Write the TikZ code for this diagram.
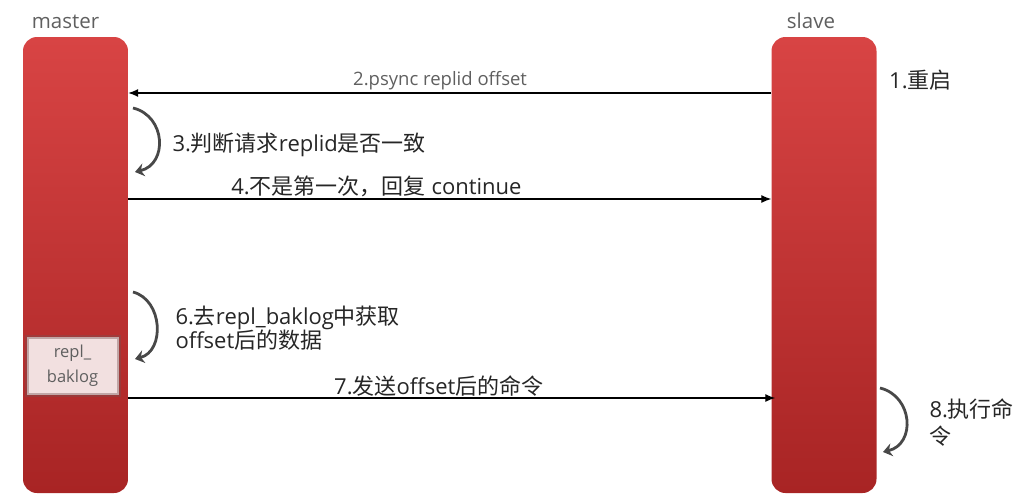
\documentclass[tikz,border=0pt]{standalone}
\usepackage{fontspec}
\setmainfont{Open Sans}
\newfontfamily\cjk{Noto Sans CJK SC}
\usepackage{tikz}
\usetikzlibrary{arrows.meta,positioning,calc}
\tikzset{>=latex}
\definecolor{barTop}{RGB}{216,68,68}
\definecolor{barBot}{RGB}{168,36,36}
\definecolor{roleGray}{RGB}{95,95,95}
\definecolor{loopGray}{RGB}{72,72,72}
\definecolor{bakFill}{RGB}{242,224,224}
\definecolor{bakEdge}{RGB}{120,80,80}
\tikzset{
    bar/.style={rectangle,rounded corners=14pt,top color=barTop,bottom color=barBot,
        minimum width=105pt,minimum height=456pt,inner sep=0pt},
    role/.style={text=roleGray,font=\fontsize{20.5}{22}\selectfont},
    msg/.style={line width=1.3pt,-{Latex[length=10pt,width=8pt]}},
    msgtext/.style={font=\fontsize{22}{24}\selectfont,text=black!85},
    selfloop/.style={line width=2.8pt,draw=loopGray,-{Stealth[length=9pt,width=13pt]}},
    bakbox/.style={rectangle,fill=bakFill,draw=bakEdge,line width=4pt,draw opacity=0.4,
        minimum width=92pt,minimum height=58pt,inner sep=0pt,align=center,
        text=roleGray,font=\fontsize{16.5}{25}\selectfont}
}

\begin{document}
\begin{tikzpicture}[x=1pt,y=-1pt]
        \useasboundingbox (0,0) rectangle (1029,498);
        %%%
        \node[bar] (master) at (75.5,265) {};
        \node[bar] (slave) at (824,265) {};
        \node[role,above=5pt of master,xshift=-10pt] (masterlbl) {master};
        \node[role,above=5pt of slave,xshift=-13pt] (slavelbl) {slave};
        %%%
        \node[bakbox] (baklog) at (72.5,365.5) {repl\_\\baklog};
        %%%
        \node[msgtext,anchor=west] (restart) at ($(slave.east |- 0,80)+(9,0)$) {1.{\cjk 重启}};
        %%%
        \draw[msg] (slave.west |- 0,93) -- node[pos=0.515,above=-1pt,role,font=\fontsize{18.5}{20}\selectfont] (psync) {2.psync replid offset} (master.east |- 0,93);
        %%%
        \coordinate (chkA) at (133,108);
        \coordinate (chkB) at (135,172);
        \draw[selfloop] (chkA) .. controls +(33,8) and +(33,-8) .. (chkB);
        \node[msgtext,anchor=west] (check) at (169,145) {3.{\cjk 判断请求}replid{\cjk 是否一致}};
        %%%
        \draw[msg] (master.east |- 0,199) -- node[pos=0.386,above=-2pt,msgtext] (cont) {4.{\cjk 不是第一次，回复} continue} (slave.west |- 0,199);
        %%%
        \coordinate (getA) at (133,292);
        \coordinate (getB) at (135,359);
        \draw[selfloop] (getA) .. controls +(30,8) and +(30,-8) .. (getB);
        \node[msgtext,anchor=west,align=left,font=\fontsize{22}{24}\selectfont] (fetch) at (172,328) {6.{\cjk 去}repl\_baklog{\cjk 中获取}\\offset{\cjk 后的数据}};
        %%%
        \draw[msg] (master.east |- 0,398) -- node[pos=0.48,above=-2pt,msgtext] (send) {7.{\cjk 发送}offset{\cjk 后的命令}} ($(slave.west |- 0,398)+(4,0)$);
        %%%
        \coordinate (execA) at (880,388);
        \coordinate (execB) at (883,452);
        \draw[selfloop] (execA) .. controls +(33,8) and +(33,-8) .. (execB);
        \node[msgtext,anchor=west,align=left,font=\fontsize{22}{27}\selectfont] (exec) at (926,423) {8.{\cjk 执行命}\\{\cjk 令}};
        %%%
    \end{tikzpicture}
\end{document}
